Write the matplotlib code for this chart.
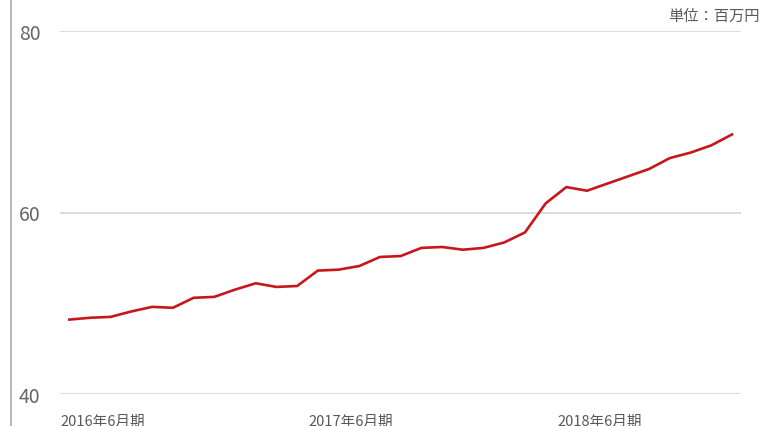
import matplotlib.pyplot as plt
from matplotlib.lines import Line2D

plt.rcParams['font.family'] = ['Noto Sans CJK JP', 'DejaVu Sans']

# monthly values (million yen), 2016/06 .. 2019/02
values = [48.2, 48.4, 48.5, 49.1, 49.6, 49.5, 50.6, 50.7, 51.5, 52.2, 51.8,
          51.9, 53.6, 53.7, 54.1, 55.1, 55.2, 56.1, 56.2, 55.9, 56.1, 56.7,
          57.8, 61.0, 62.8, 62.4, 63.2, 64.0, 64.8, 66.0, 66.6, 67.4, 68.6]
x_labels = ['2016年6月期', '2017年6月期', '2018年6月期']
x_label_pos = [0, 12, 24]
y_ticks = [40, 60, 80]
unit_text = '単位：百万円'

W, H = 763, 427
fig = plt.figure(figsize=(W / 100, H / 100), dpi=100)

# axes box in pixels: x 60..741, y 32 (80) .. 395 (40)
ax = fig.add_axes([60 / W, 1 - 395 / H, (741 - 60) / W, (395 - 32) / H])

xs = list(range(len(values)))
ax.plot(xs, values, color='#c8161d', linewidth=1.9, solid_joinstyle='round')

step = (732 - 69) / (len(values) - 1)
ax.set_xlim(-(69 - 60) / step, len(values) - 1 + (741 - 732) / step)
ax.set_ylim(40, 80)

ax.set_yticks(y_ticks)
ax.set_yticklabels([str(v) for v in y_ticks], fontsize=14, color='#666666')
ax.tick_params(axis='y', length=0, pad=14)

ax.set_xticks([p - 0.45 for p in x_label_pos])
ax.set_xticklabels(x_labels, fontsize=10.5, color='#595959', ha='left')
ax.tick_params(axis='x', length=0, pad=14)

ax.grid(axis='y', color='#d9d9d9', linewidth=1.3)
ax.set_axisbelow(True)
for s in ax.spines.values():
    s.set_visible(False)

# left vertical rule
fig.add_artist(Line2D([11 / W, 11 / W], [0, 1], color='#b0b0b0', linewidth=1.3))

fig.text(760 / W, 1 - 16 / H, unit_text, ha='right', va='center',
         fontsize=11, color='#595959')

fig.savefig('out.png', dpi=100)
